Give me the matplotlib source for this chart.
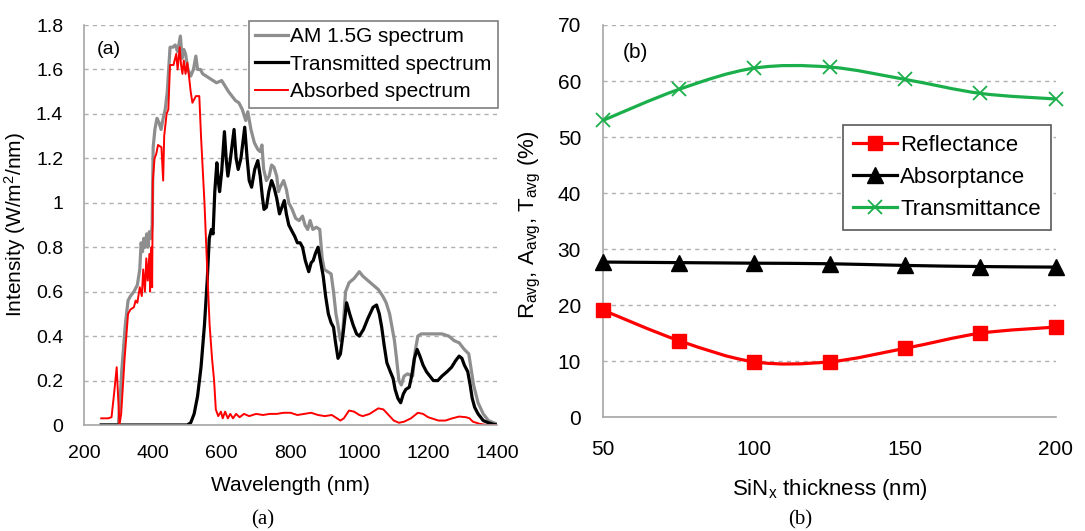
import matplotlib
matplotlib.use("Agg")
import matplotlib.pyplot as plt
from matplotlib.path import Path
from matplotlib.patches import PathPatch
from matplotlib.lines import Line2D
from matplotlib.ticker import FormatStrFormatter

plt.rcParams['font.family'] = ['Liberation Sans', 'DejaVu Sans']
plt.rcParams['mathtext.fontset'] = 'custom'
plt.rcParams['mathtext.rm'] = 'Liberation Sans'
plt.rcParams['mathtext.it'] = 'Liberation Sans'

# ---- panel (a): spectra ----
am_wl = [250, 300, 310, 320, 328, 335, 345, 355, 362, 366, 370, 374, 378, 382, 386, 390,
         395, 398, 401, 406, 412, 418, 424, 430, 436, 442, 446, 450, 458, 465, 472, 480,
         485, 490, 495, 502, 510, 518, 525, 530, 538, 545, 555, 565, 575, 585, 600, 620,
         640, 650, 660, 670, 676, 685, 695, 705, 712, 717, 722, 730, 738, 745, 752, 760,
         765, 770, 780, 788, 795, 805, 815, 825, 835, 842, 850, 857, 865, 875, 885, 892,
         898, 908, 918, 925, 932, 938, 945, 952, 960, 970, 985, 1000, 1010, 1025, 1040,
         1055, 1068, 1078, 1088, 1095, 1102, 1108, 1115, 1122, 1130, 1140, 1155, 1162,
         1170, 1180, 1200, 1220, 1240, 1260, 1275, 1290, 1305, 1318, 1325, 1332, 1345,
         1360, 1375, 1390, 1400]
am_val = [0, 0, 0.25, 0.45, 0.56, 0.58, 0.6, 0.63, 0.7, 0.82, 0.78, 0.84, 0.8, 0.86, 0.8, 0.87,
          0.84, 0.9, 1.25, 1.33, 1.38, 1.36, 1.33, 1.38, 1.42, 1.5, 1.6, 1.7, 1.7, 1.71, 1.68, 1.75,
          1.65, 1.69, 1.67, 1.6, 1.57, 1.6, 1.66, 1.6, 1.6, 1.58, 1.57, 1.56, 1.55, 1.54, 1.55, 1.5,
          1.46, 1.45, 1.42, 1.37, 1.41, 1.33, 1.27, 1.24, 1.23, 1.26, 1.15, 1.1, 1.12, 1.17, 1.16, 1.12,
          1.05, 1.07, 1.1, 1.06, 1.0, 0.97, 0.93, 0.92, 0.94, 0.9, 0.88, 0.92, 0.88, 0.89, 0.88, 0.75,
          0.7, 0.69, 0.68, 0.6, 0.5, 0.45, 0.38, 0.42, 0.6, 0.64, 0.66, 0.69, 0.67, 0.65, 0.63,
          0.61, 0.58, 0.55, 0.5, 0.44, 0.38, 0.3, 0.2, 0.18, 0.22, 0.23, 0.22, 0.33,
          0.4, 0.41, 0.41, 0.41, 0.41, 0.4, 0.38, 0.37, 0.34, 0.32, 0.25, 0.18, 0.1,
          0.05, 0.02, 0.01, 0.005]

tr_wl = [250, 500, 510, 520, 530, 540, 550, 558, 564, 570, 575, 580, 586, 590, 594, 600, 608,
         613, 618, 624, 636, 642, 648, 656, 667, 674, 680, 687, 696, 705, 712, 718, 723, 730,
         737, 745, 752, 760, 768, 775, 782, 788, 795, 805, 812, 820, 828, 835, 843, 853, 860,
         866, 872, 880, 888, 895, 902, 910, 918, 925, 930, 938, 945, 952, 963, 972, 982, 992,
         1000, 1012, 1025, 1040, 1050, 1058, 1065, 1072, 1080, 1090, 1098, 1104, 1112, 1120,
         1128, 1135, 1145, 1152, 1160, 1168, 1176, 1185, 1195, 1205, 1215, 1228, 1240, 1255,
         1268, 1280, 1290, 1298, 1305, 1315, 1322, 1328, 1335, 1345, 1360, 1375, 1390, 1400]
tr_val = [0, 0, 0.01, 0.05, 0.13, 0.26, 0.45, 0.65, 0.84, 0.88, 0.86, 1.05, 1.18, 1.1, 1.05, 1.14, 1.32,
          1.2, 1.12, 1.18, 1.33, 1.2, 1.15, 1.2, 1.34, 1.2, 1.1, 1.07, 1.15, 1.19, 1.12, 1.03, 0.97, 0.98,
          1.05, 1.1, 1.07, 1.02, 0.95, 0.98, 1.01, 0.95, 0.9, 0.87, 0.85, 0.82, 0.82, 0.8, 0.74, 0.69, 0.73,
          0.74, 0.77, 0.8, 0.73, 0.67, 0.58, 0.5, 0.46, 0.44, 0.38, 0.3, 0.32, 0.4, 0.55, 0.5, 0.45, 0.41,
          0.4, 0.43, 0.48, 0.53, 0.54, 0.5, 0.44, 0.36, 0.28, 0.24, 0.21, 0.16, 0.12, 0.1,
          0.14, 0.16, 0.17, 0.22, 0.3, 0.34, 0.31, 0.27, 0.24, 0.22, 0.2, 0.2, 0.22, 0.24,
          0.26, 0.29, 0.31, 0.3, 0.27, 0.24, 0.18, 0.12, 0.08, 0.05, 0.02, 0.01, 0.003, 0]

ab_wl = [250, 270, 280, 288, 295, 300, 303, 308, 318, 328, 335, 345, 350, 355, 362, 368, 372,
         377, 381, 385, 390, 392, 396, 398, 400, 405, 410, 415, 425, 430, 433, 440, 445, 450,
         460, 468, 472, 478, 482, 486, 490, 495, 500, 505, 510, 515, 525, 535, 540, 550, 558,
         565, 572, 578, 583, 590, 598, 603, 610, 618, 625, 633, 642, 652, 665, 680, 700, 720,
         740, 760, 780, 800, 820, 840, 860, 880, 900, 920, 935, 945, 955, 970, 985, 1000, 1010,
         1030, 1055, 1070, 1085, 1100, 1115, 1130, 1150, 1170, 1185, 1200, 1230, 1250, 1270,
         1290, 1310, 1320, 1330, 1350, 1370, 1400]
ab_val = [0.03, 0.03, 0.035, 0.15, 0.26, 0.1, 0, 0.05, 0.3, 0.5, 0.52, 0.53, 0.56, 0.55, 0.62, 0.58, 0.7,
          0.6, 0.75, 0.65, 0.77, 0.6, 0.8, 0.62, 1.1, 1.2, 1.22, 1.26, 1.25, 1.1, 1.3, 1.4, 1.42, 1.62,
          1.62, 1.67, 1.6, 1.7, 1.62, 1.58, 1.64, 1.58, 1.63, 1.57, 1.5, 1.45, 1.48, 1.48, 1.3, 1.0, 0.7,
          0.45, 0.3, 0.2, 0.07, 0.04, 0.06, 0.03, 0.06, 0.03, 0.05, 0.03, 0.05, 0.035, 0.05, 0.04, 0.05, 0.045,
          0.05, 0.05, 0.055, 0.055, 0.045, 0.05, 0.055, 0.045, 0.04, 0.045, 0.03, 0.02, 0.03, 0.065, 0.06, 0.045, 0.04,
          0.05, 0.075, 0.07, 0.045, 0.02, 0.01, 0.015, 0.03, 0.055, 0.05, 0.035, 0.02, 0.02, 0.03,
          0.038, 0.035, 0.03, 0.015, 0.005, 0, 0]

# ---- panel (b): averages vs thickness ----
thick = [50, 75, 100, 125, 150, 175, 200]
refl = [19.1, 13.7, 9.9, 9.9, 12.3, 15.0, 16.1]
absp = [27.7, 27.6, 27.5, 27.4, 27.1, 26.9, 26.8]
trans = [53.0, 58.5, 62.3, 62.5, 60.3, 57.8, 56.8]

GRID = '#b0b0b0'
SPINE = '#a6a6a6'
GREEN = '#1aaf4b'
W, H = 1085, 531


def smooth_path(x, y):
    # Excel-style smoothed line as cubic Bezier segments
    pts = list(zip(x, y))
    n = len(pts)
    verts = [pts[0]]
    codes = [Path.MOVETO]
    for i in range(n - 1):
        p0 = pts[i - 1] if i > 0 else pts[i]
        p1 = pts[i]
        p2 = pts[i + 1]
        p3 = pts[i + 2] if i + 2 < n else pts[i + 1]
        c1 = (p1[0] + (p2[0] - p0[0]) / 6, p1[1] + (p2[1] - p0[1]) / 6)
        c2 = (p2[0] - (p3[0] - p1[0]) / 6, p2[1] - (p3[1] - p1[1]) / 6)
        verts += [c1, c2, p2]
        codes += [Path.CURVE4] * 3
    return Path(verts, codes)


def style_axes(ax, size):
    for s in ['top', 'right']:
        ax.spines[s].set_visible(False)
    for s in ['left', 'bottom']:
        ax.spines[s].set_color(SPINE)
        ax.spines[s].set_linewidth(1.2)
    ax.yaxis.grid(True, linestyle=(0, (3, 3)), color=GRID, linewidth=1)
    ax.set_axisbelow(True)
    ax.tick_params(length=0, labelsize=size)


fig = plt.figure(figsize=(W / 100, H / 100), dpi=100)

# panel (a)
ax1 = fig.add_axes([84 / W, 106 / H, 413 / W, 400 / H])
style_axes(ax1, 14)
ax1.plot(am_wl, am_val, color='#8e8e8e', lw=2.3, label='AM 1.5G spectrum')
ax1.plot(tr_wl, tr_val, color='black', lw=2.3, label='Transmitted spectrum')
ax1.plot(ab_wl, ab_val, color='#ff0000', lw=1.4, label='Absorbed spectrum')
ax1.set_xlim(200, 1400)
ax1.set_ylim(0, 1.8)
ax1.set_xticks(range(200, 1401, 200))
ax1.set_yticks([0, 0.2, 0.4, 0.6, 0.8, 1.0, 1.2, 1.4, 1.6, 1.8])
ax1.yaxis.set_major_formatter(FormatStrFormatter('%g'))
ax1.tick_params(axis='y', pad=15)
ax1.tick_params(axis='x', pad=14.5)
ax1.set_xlabel('Wavelength (nm)', fontsize=15)
ax1.xaxis.set_label_coords(0.5, -0.128)
ax1.set_ylabel('Intensity (W/m$^2$/nm)', fontsize=15)
ax1.yaxis.set_label_coords(-0.136, 0.5)
ax1.text(0.03, 0.94, '(a)', transform=ax1.transAxes, fontsize=14, va='center')
leg1 = ax1.legend(loc='upper right', bbox_to_anchor=(498 / W, 1 - 20.7 / H),
                  bbox_transform=fig.transFigure, borderaxespad=0, fontsize=15,
                  fancybox=False, framealpha=1, edgecolor='#7f7f7f',
                  handlelength=1.6, handletextpad=0.1, labelspacing=0.42,
                  borderpad=0.3)
leg1.get_frame().set_linewidth(1.2)

# panel (b)
ax2 = fig.add_axes([603.3 / W, 113.7 / H, 452.4 / W, 392.3 / H])
style_axes(ax2, 15)
series = [(refl, '#ff0000', 's', 'Reflectance', 10.5, 1),
          (absp, 'black', '^', 'Absorptance', 11, 1),
          (trans, GREEN, 'x', 'Transmittance', 10, 1.3)]
handles = []
for vals, col, mk, lab, ms, mew in series:
    ax2.add_patch(PathPatch(smooth_path(thick, vals), fill=False, edgecolor=col,
                            lw=2.3, zorder=2))
    ax2.plot(thick, vals, linestyle='none', marker=mk, color=col, markersize=ms,
             markeredgewidth=mew, zorder=3, clip_on=False)
    handles.append(Line2D([], [], color=col, lw=2.3, marker=mk, markersize=ms,
                          markeredgewidth=mew, label=lab))
ax2.set_xlim(50, 200)
ax2.set_ylim(0, 70)
ax2.set_xticks([50, 100, 150, 200])
ax2.set_yticks(range(0, 71, 10))
ax2.tick_params(axis='y', pad=16)
ax2.tick_params(axis='x', pad=16.5)
ax2.set_xlabel('SiN$_x$ thickness (nm)', fontsize=16)
ax2.xaxis.set_label_coords(0.5, -0.152)
ax2.set_ylabel('R$_{avg}$, A$_{avg}$, T$_{avg}$ (%)', fontsize=16)
ax2.yaxis.set_label_coords(-0.133, 0.49)
ax2.text(0.043, 0.929, '(b)', transform=ax2.transAxes, fontsize=15, va='center')
leg2 = ax2.legend(handles=handles, loc='upper right',
                  bbox_to_anchor=(1051 / W, 1 - 124.6 / H),
                  bbox_transform=fig.transFigure, borderaxespad=0, fontsize=16,
                  fancybox=False, framealpha=1, edgecolor='#595959',
                  handlelength=2.0, handletextpad=0.15, labelspacing=0.5,
                  borderpad=0.45)
leg2.get_frame().set_linewidth(1.2)

# captions
fig.text(263 / W, 1 - 520 / H, '(a)', ha='center', va='center', fontsize=15,
         family=['Liberation Serif', 'DejaVu Serif'])
fig.text(800 / W, 1 - 520 / H, '(b)', ha='center', va='center', fontsize=15,
         family=['Liberation Serif', 'DejaVu Serif'])

fig.savefig('out.png', dpi=100)
